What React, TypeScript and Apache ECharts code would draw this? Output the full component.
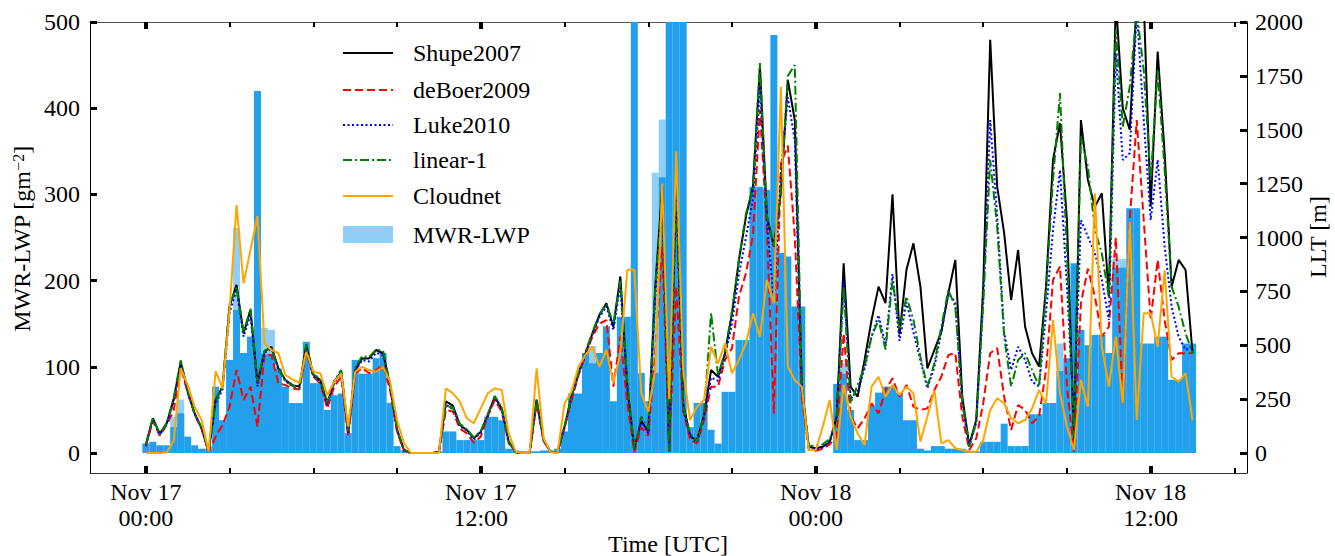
import React, { useEffect, useRef } from 'react';
import * as echarts from 'echarts';

// Sampling of the time series (hours since Nov 17 00:00 UTC)
const START_H = 0;
const STEP_H = 0.25;

// LLT [m] per method
const SHUPE2007 = [
  37, 160, 90, 138, 250, 424, 285, 184, 115, 6,
  246, 308, 680, 780, 555, 663, 323, 470, 493, 393,
  339, 315, 308, 501, 362, 339, 230, 331, 377, 91,
  385, 439, 439, 478, 463, 315, 107, 14, 0, 0,
  0, 0, 5, 240, 220, 130, 107, 68, 99, 176,
  261, 207, 53, 3, 0, 0, 246, 60, 6, 3,
  122, 261, 370, 463, 555, 640, 695, 586, 819, 308,
  20, 150, 100, 772, 1236, 10, 1267, 230, 76, 60,
  176, 385, 354, 463, 648, 896, 1097, 1236, 1793, 1097,
  958, 1205, 1731, 1545, 308, 29, 22, 29, 50, 169,
  880, 308, 261, 432, 617, 772, 695, 1200, 550, 850,
  973, 772, 393, 478, 563, 741, 896, 261, 37, 153,
  772, 1917, 1236, 1020, 710, 942, 586, 463, 401, 772,
  1360, 1530, 1081, 60, 1545, 1267, 1143, 1205, 726, 2100,
  1600, 1500, 2100, 2100, 1143, 1863, 1391, 772, 896, 849, 463,
];

const DEBOER2009 = [
  30, 150, 80, 130, 200, 400, 280, 180, 110, 5,
  76, 130, 215, 385, 246, 308, 122, 455, 455, 323,
  315, 300, 295, 470, 354, 323, 207, 308, 354, 76,
  370, 393, 370, 385, 408, 292, 99, 10, 0, 0,
  0, 0, 3, 200, 192, 114, 91, 48, 76, 169,
  246, 192, 45, 3, 0, 0, 230, 55, 5, 2,
  115, 245, 360, 455, 540, 600, 617, 308, 540, 230,
  3, 120, 80, 463, 958, 5, 772, 200, 60, 45,
  153, 308, 308, 432, 486, 726, 834, 1010, 1592, 1035,
  184, 1344, 1426, 1004, 261, 15, 10, 20, 40, 76,
  555, 169, 114, 161, 230, 184, 292, 347, 261, 316,
  215, 200, 207, 292, 354, 455, 463, 169, 14, 68,
  230, 463, 487, 261, 107, 223, 200, 138, 169, 385,
  803, 865, 308, 6, 695, 855, 726, 540, 586, 1000,
  230, 1081, 1545, 1081, 617, 896, 617, 432, 463, 463, 463,
];

const LUKE2010 = [
  35, 155, 85, 135, 240, 415, 280, 180, 112, 6,
  230, 295, 650, 760, 540, 640, 310, 465, 485, 385,
  333, 310, 302, 490, 355, 332, 222, 325, 370, 88,
  380, 430, 425, 465, 455, 308, 105, 13, 0, 0,
  0, 0, 3, 225, 203, 126, 103, 62, 95, 172,
  256, 202, 50, 3, 0, 0, 240, 58, 6, 3,
  118, 255, 365, 458, 548, 630, 680, 570, 780, 300,
  15, 150, 90, 720, 1150, 10, 1200, 200, 80, 50,
  165, 350, 335, 450, 600, 830, 1000, 1180, 1700, 1080,
  700, 1300, 1650, 1450, 290, 25, 18, 25, 55, 160,
  800, 250, 290, 390, 540, 640, 500, 830, 520, 700,
  560, 430, 300, 400, 560, 740, 700, 230, 30, 140,
  700, 1545, 1100, 560, 385, 493, 432, 331, 308, 648,
  1035, 1313, 772, 153, 1081, 1004, 927, 803, 617, 1855,
  1360, 1391, 2050, 1545, 1081, 1360, 958, 679, 540, 478, 493,
];

const LINEAR1 = [
  40, 165, 85, 140, 255, 430, 290, 178, 118, 6,
  240, 310, 690, 770, 560, 670, 330, 475, 490, 390,
  335, 312, 300, 505, 365, 345, 235, 335, 385, 95,
  395, 450, 445, 480, 475, 320, 110, 14, 0, 0,
  0, 0, 5, 220, 210, 135, 110, 72, 102, 180,
  265, 210, 55, 3, 0, 0, 250, 62, 6, 3,
  125, 265, 375, 470, 560, 645, 690, 600, 800, 330,
  20, 170, 110, 760, 1200, 10, 1250, 220, 90, 55,
  180, 650, 360, 470, 660, 900, 1110, 1230, 1810, 1100,
  960, 1210, 1750, 1800, 320, 30, 35, 40, 65, 153,
  772, 230, 316, 401, 540, 617, 480, 803, 571, 726,
  617, 447, 308, 416, 586, 756, 679, 238, 29, 145,
  695, 1360, 1050, 540, 308, 432, 463, 385, 308, 756,
  1267, 1670, 926, 76, 1468, 1329, 1035, 926, 726, 1963,
  1515, 1700, 2050, 1777, 1267, 1777, 1313, 772, 679, 555, 463,
];

const CLOUDNET = [
  0, 0, 0, 3, 57, 393, 315, 215, 153, 6,
  380, 300, 663, 1150, 787, 942, 1100, 509, 478, 463,
  362, 342, 326, 470, 377, 370, 269, 331, 370, 122,
  377, 400, 385, 377, 400, 331, 153, 45, 0, 0,
  0, 0, 0, 300, 277, 238, 161, 138, 207, 277,
  300, 292, 91, 6, 0, 0, 393, 68, 3, 0,
  230, 285, 400, 455, 493, 400, 478, 323, 463, 850,
  850, 277, 192, 385, 1250, 250, 1400, 385, 153, 215,
  246, 493, 416, 509, 370, 432, 509, 648, 540, 803,
  695, 1700, 400, 339, 308, 14, 14, 122, 246, 14,
  316, 169, 91, 37, 308, 354, 261, 316, 269, 308,
  277, 53, 169, 292, 45, 60, 22, 14, 6, 6,
  60, 200, 254, 230, 161, 138, 153, 207, 292, 230,
  617, 277, 122, 14, 339, 215, 1205, 493, 308, 540,
  230, 1072, 153, 648, 648, 493, 848, 354, 331, 370, 153,
];

// MWR-LWP [g m^-2] (dense, overlapping part)
const MWR_LWP = [
  11, 13, 9, 9, 30, 46, 19, 9, 5, 5,
  77, 38, 108, 166, 116, 135, 420, 115, 115, 98,
  77, 58, 58, 129, 81, 81, 50, 67, 69, 23,
  108, 92, 92, 110, 116, 58, 8, 3, 0, 0,
  0, 0, 2, 25, 25, 15, 15, 15, 15, 42,
  42, 38, 5, 3, 2, 2, 2, 3, 3, 5,
  25, 69, 69, 116, 104, 116, 147, 60, 158, 158,
  520, 93, 60, 93, 320, 520, 520, 520, 30, 58,
  58, 27, 11, 71, 71, 131, 131, 309, 309, 305,
  485, 232, 228, 170, 170, 0, 0, 0, 0, 80,
  92, 50, 15, 15, 55, 70, 77, 77, 70, 38,
  38, 5, 3, 8, 8, 5, 5, 5, 2, 2,
  13, 13, 13, 34, 8, 8, 8, 45, 45, 58,
  58, 95, 110, 220, 143, 125, 137, 137, 116, 215,
  215, 284, 284, 127, 127, 135, 135, 85, 85, 127, 127,
];

// MWR-LWP single-layer (lighter) tops: [hour, g m^-2]
const MWR_LWP_TOPS = [
  [1.0, 42], [1.25, 62], [3.25, 261], [4.25, 145], [4.5, 143],
  [16.0, 124], [18.25, 325], [18.5, 387], [25.0, 104],
  [32.75, 127], [34.75, 225], [35.0, 225],
];

const X_TICK_HOURS = [0, 12, 24, 36];
const X_TICK_LABELS = ['Nov 17\n00:00', 'Nov 17\n12:00', 'Nov 18\n00:00', 'Nov 18\n12:00'];
const X_MINOR_HOURS = [3, 6, 9, 15, 18, 21, 27, 30, 33, 39];
const Y_LEFT_TICKS = [0, 100, 200, 300, 400, 500];
const Y_RIGHT_TICKS = [0, 250, 500, 750, 1000, 1250, 1500, 1750, 2000];

const LEGEND_NAMES = ['Shupe2007', 'deBoer2009', 'Luke2010', 'linear-1', 'Cloudnet', 'MWR-LWP'];

const FONT = 'Liberation Serif';

const X_MIN = -2.0;
const X_MAX = 39.45;
const YL_MIN = -23.2;
const YL_MAX = 500;
const YR_MIN = -92.8;
const YR_MAX = 2000;

function pairs(values: number[]) {
  return values.map((v, i) => [START_H + i * STEP_H, v]);
}

export default function App() {
  const ref = useRef<HTMLDivElement>(null);

  useEffect(() => {
    if (!ref.current) return;
    const chart = echarts.init(ref.current, null, { renderer: 'svg' });

    const lineDefs = [
      { name: LEGEND_NAMES[0], data: SHUPE2007, color: '#000000', type: 'solid' as any },
      { name: LEGEND_NAMES[1], data: DEBOER2009, color: '#ff0000', type: [8, 4] },
      { name: LEGEND_NAMES[2], data: LUKE2010, color: '#0000ff', type: [2, 2.5] },
      { name: LEGEND_NAMES[3], data: LINEAR1, color: '#008000', type: [9, 3, 2, 3] },
      { name: LEGEND_NAMES[4], data: CLOUDNET, color: '#ffa500', type: 'solid' as any },
    ];

    const xBase = {
      type: 'value',
      min: X_MIN,
      max: X_MAX,
      splitLine: { show: false },
    };

    const txt = (extra: any) => ({
      fontSize: 24,
      fontFamily: FONT,
      fill: '#000',
      ...extra,
    });

    const legendRowsY = [53, 90, 125, 160, 196];
    const graphic: any[] = [];
    lineDefs.forEach((d, i) => {
      graphic.push({
        type: 'line',
        shape: { x1: 343, y1: legendRowsY[i], x2: 393, y2: legendRowsY[i] },
        style: {
          stroke: d.color,
          lineWidth: 2,
          lineDash: Array.isArray(d.type) ? d.type : null,
        },
        z: 100,
      });
      graphic.push({
        type: 'text',
        x: 413,
        y: legendRowsY[i],
        style: txt({ text: d.name, verticalAlign: 'middle', align: 'left' }),
        z: 100,
      });
    });
    graphic.push({
      type: 'rect',
      shape: { x: 343, y: 226, width: 50, height: 17 },
      style: { fill: '#90cff5' },
      z: 100,
    });
    graphic.push({
      type: 'text',
      x: 413,
      y: 235,
      style: txt({ text: LEGEND_NAMES[5], verticalAlign: 'middle', align: 'left' }),
      z: 100,
    });
    // axis titles
    graphic.push({
      type: 'text',
      x: 22,
      y: 239,
      rotation: Math.PI / 2,
      style: txt({
        text: 'MWR-LWP [gm{sup|−2}]',
        align: 'center',
        verticalAlign: 'middle',
        rich: {
          sup: { fontSize: 16, fontFamily: FONT, fill: '#000', verticalAlign: 'top' },
        },
      }),
    });
    graphic.push({
      type: 'text',
      x: 1318,
      y: 237,
      rotation: Math.PI / 2,
      style: txt({ text: 'LLT [m]', align: 'center', verticalAlign: 'middle' }),
    });
    graphic.push({
      type: 'text',
      x: 668,
      y: 544,
      style: txt({ text: 'Time [UTC]', align: 'center', verticalAlign: 'middle' }),
    });

    const option: any = {
      animation: false,
      textStyle: { fontFamily: FONT },
      grid: { left: 90, right: 88, top: 22, bottom: 83, containLabel: false, outerBoundsMode: 'none' },
      xAxis: [
        {
          ...xBase,
          position: 'bottom',
          axisLine: { show: true, onZero: false, lineStyle: { color: '#333', width: 1 } },
          axisTick: {
            show: true,
            inside: true,
            length: 7,
            lineStyle: { color: '#000', width: 4 },
            customValues: X_TICK_HOURS,
          },
          axisLabel: {
            show: true,
            margin: 6,
            color: '#000',
            fontSize: 24,
            fontFamily: FONT,
            lineHeight: 26,
            customValues: X_TICK_HOURS,
            formatter: (v: number) => {
              const k = X_TICK_HOURS.indexOf(Math.round(v));
              return k >= 0 ? X_TICK_LABELS[k] : '';
            },
          },
        },
        {
          ...xBase,
          position: 'bottom',
          axisLine: { show: false, onZero: false },
          axisTick: {
            show: true,
            inside: true,
            length: 5,
            lineStyle: { color: '#000', width: 2 },
            customValues: X_MINOR_HOURS,
          },
          axisLabel: { show: false },
        },
        {
          ...xBase,
          position: 'top',
          axisLine: { show: true, onZero: false, lineStyle: { color: '#555', width: 1 } },
          axisTick: {
            show: true,
            inside: true,
            length: 7,
            lineStyle: { color: '#000', width: 4 },
            customValues: X_TICK_HOURS,
          },
          axisLabel: { show: false },
        },
        {
          ...xBase,
          position: 'top',
          axisLine: { show: false, onZero: false },
          axisTick: {
            show: true,
            inside: true,
            length: 5,
            lineStyle: { color: '#000', width: 2 },
            customValues: X_MINOR_HOURS,
          },
          axisLabel: { show: false },
        },
      ],
      yAxis: [
        {
          type: 'value',
          position: 'left',
          min: YL_MIN,
          max: YL_MAX,
          splitLine: { show: false },
          axisLine: { show: true, onZero: false, lineStyle: { color: '#000', width: 1 } },
          axisTick: {
            show: true,
            inside: true,
            length: 7,
            lineStyle: { color: '#000', width: 3 },
            customValues: Y_LEFT_TICKS,
          },
          axisLabel: {
            show: true,
            margin: 10,
            color: '#000',
            fontSize: 24,
            fontFamily: FONT,
            customValues: Y_LEFT_TICKS,
            formatter: (v: number) => String(Math.round(v)),
          },
        },
        {
          type: 'value',
          position: 'right',
          min: YR_MIN,
          max: YR_MAX,
          splitLine: { show: false },
          axisLine: { show: true, onZero: false, lineStyle: { color: '#000', width: 1 } },
          axisTick: {
            show: true,
            inside: true,
            length: 7,
            lineStyle: { color: '#000', width: 3 },
            customValues: Y_RIGHT_TICKS,
          },
          axisLabel: {
            show: true,
            margin: 8,
            color: '#000',
            fontSize: 24,
            fontFamily: FONT,
            customValues: Y_RIGHT_TICKS,
            formatter: (v: number) => String(Math.round(v)),
          },
        },
      ],
      series: [
        {
          type: 'bar',
          name: 'MWR-LWP tops',
          xAxisIndex: 0,
          yAxisIndex: 0,
          data: MWR_LWP_TOPS,
          barWidth: 7,
          barGap: '-100%',
          itemStyle: { color: '#90cff5' },
          clip: true,
          z: 1,
        },
        {
          type: 'bar',
          name: LEGEND_NAMES[5],
          xAxisIndex: 0,
          yAxisIndex: 0,
          data: pairs(MWR_LWP),
          barWidth: 7,
          barGap: '-100%',
          itemStyle: { color: '#22a0ec' },
          clip: true,
          z: 1,
        },
        ...lineDefs.map((d, i) => ({
          type: 'line',
          name: d.name,
          xAxisIndex: 0,
          yAxisIndex: 1,
          data: pairs(d.data),
          showSymbol: false,
          symbol: 'none',
          clip: true,
          lineStyle: { color: d.color, width: 2, type: d.type },
          z: 2 + i,
        })),
      ],
      graphic,
    };

    chart.setOption(option);
    return () => chart.dispose();
  }, []);

  return (
    <div
      ref={ref}
      style={{ position: 'fixed', left: 0, top: 0, width: 1335, height: 556, background: '#fff' }}
    />
  );
}
